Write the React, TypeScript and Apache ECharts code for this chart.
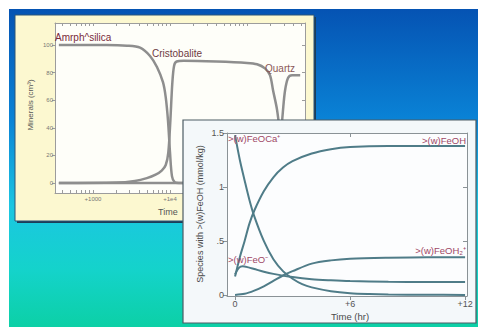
import React, { useEffect, useRef } from 'react';
import * as echarts from 'echarts';

// ---------- Panel 1: minerals vs time (log axis, years) ----------
const mineralLabelValues = [1000, 10000];
const mineralTickValues = [
  400, 500, 600, 700, 800, 900, 1000,
  2000, 3000, 4000, 5000, 6000, 7000, 8000, 9000, 10000,
  20000, 30000, 40000, 50000, 60000, 70000, 80000, 90000, 100000,
  200000, 300000, 400000, 500000,
];
const mineralYTicks = [0, 20, 40, 60, 80, 100];

const amorphSilica: [number, number][] = [
  [360, 100], [1500, 100], [2760, 99.5], [4080, 98], [5500, 92], [6770, 84],
  [8100, 73], [8800, 62], [9420, 45], [10000, 22], [10600, 5], [11500, 0.5],
  [13000, 0], [500000, 0],
];
const cristobalite: [number, number][] = [
  [360, 0], [2000, 0.3], [3500, 1.5], [5000, 3.5], [6500, 6], [7800, 9],
  [8800, 13], [9500, 22], [10100, 45], [10700, 72], [11300, 85], [12200, 88],
  [15000, 88.5], [40000, 88], [100000, 87], [135000, 86], [171000, 83],
  [199000, 78], [218000, 67], [245500, 53], [268500, 35], [293500, 12],
  [320000, 0.5], [340000, 0], [500000, 0],
];
const quartz: [number, number][] = [
  [360, 0], [238000, 0], [260400, 12], [276500, 35], [293500, 53],
  [311700, 67], [340700, 76], [383900, 78], [490000, 78],
];

// ---------- Panel 2: surface species vs time (hr) ----------
const hrLabelValues = [0, 6, 12];
const hrTopTicks = [6];
const speciesYTicks = [0, 0.5, 1, 1.5];
const speciesRightTicks = [0.5, 1];

const feOCa: [number, number][] = [
  [0, 1.48], [0.25, 1.25], [0.5, 1.06], [0.75, 0.88], [1, 0.73], [1.5, 0.5],
  [2, 0.33], [2.5, 0.22], [3, 0.15], [3.5, 0.1], [4, 0.07], [5, 0.035],
  [6, 0.016], [7, 0.008], [8, 0.004], [10, 0.001], [12, 0],
];
const feOH: [number, number][] = [
  [0, 0.17], [0.25, 0.35], [0.5, 0.5], [0.75, 0.66], [1, 0.78], [1.5, 0.96],
  [2, 1.09], [2.5, 1.18], [3, 1.24], [4, 1.31], [5, 1.35], [6, 1.37],
  [8, 1.38], [10, 1.38], [12, 1.38],
];
const feOminus: [number, number][] = [
  [0, 0.19], [0.2, 0.25], [0.4, 0.265], [0.7, 0.255], [1, 0.24], [1.5, 0.215],
  [2, 0.195], [3, 0.165], [4, 0.145], [5, 0.135], [6, 0.128], [8, 0.122],
  [10, 0.12], [12, 0.12],
];
const feOH2plus: [number, number][] = [
  [0, 0], [0.5, 0.01], [1, 0.04], [1.5, 0.08], [2, 0.13], [2.5, 0.18],
  [3, 0.22], [4, 0.29], [5, 0.32], [6, 0.335], [8, 0.345], [10, 0.35], [12, 0.35],
];

const FONT = '"Liberation Sans", Arial, sans-serif';

export default function App() {
  const ref = useRef<HTMLDivElement>(null);

  useEffect(() => {
    const chart = echarts.init(ref.current!, null, { renderer: 'svg' });
    const frame1 = '#9c9c9c';
    const frame2 = '#8a9296';
    const curve1 = '#8e8e8e';
    const curve2 = '#4f7c88';
    const lbl2 = '#a04766';

    const option: any = {
      animation: false,
      textStyle: { fontFamily: FONT },
      graphic: [
        {
          type: 'rect', z: 1, silent: true,
          shape: { x: 9, y: 9, width: 469, height: 318 },
          style: {
            fill: new echarts.graphic.LinearGradient(0, 0, 0, 1, [
              { offset: 0, color: '#0553b3' },
              { offset: 0.35, color: '#0a83d6' },
              { offset: 0.62, color: '#1bc6e2' },
              { offset: 0.82, color: '#14d3cb' },
              { offset: 1, color: '#0cd0a6' },
            ]),
          },
        },
        // panel 1 shadow + body
        {
          type: 'rect', z: 2, silent: true,
          shape: { x: 17, y: 17, width: 299, height: 206 },
          style: { fill: '#1c3d58' },
        },
        {
          type: 'rect', z: 2, silent: true,
          shape: { x: 15, y: 15, width: 299, height: 206 },
          style: { fill: '#fcf8d0', stroke: '#2a5478', lineWidth: 1 },
        },
        // panel 1 texts
        {
          type: 'text', z: 6, silent: true, x: 55, y: 37,
          style: { text: 'Amrph^silica', fill: '#7a2a3a', font: `10px ${FONT}`, verticalAlign: 'middle' },
        },
        {
          type: 'text', z: 6, silent: true, x: 152, y: 53,
          style: { text: 'Cristobalite', fill: '#6e3a42', font: `10px ${FONT}`, verticalAlign: 'middle' },
        },
        {
          type: 'text', z: 6, silent: true, x: 265, y: 68,
          style: { text: 'Quartz', fill: '#8a5858', font: `10px ${FONT}`, verticalAlign: 'middle' },
        },
        {
          type: 'text', z: 6, silent: true, x: 30, y: 105, rotation: Math.PI / 2,
          style: { text: 'Minerals (cm³)', fill: '#555', font: `8px ${FONT}`, align: 'center', verticalAlign: 'middle' },
        },
        {
          type: 'text', z: 6, silent: true, x: 158, y: 212,
          style: { text: 'Time', fill: '#555', font: `9px ${FONT}`, verticalAlign: 'middle' },
        },
        // panel 2 body
        {
          type: 'rect', z: 10, silent: true,
          shape: { x: 183, y: 120, width: 293, height: 203 },
          style: { fill: '#f4f8fa', stroke: '#4c5c64', lineWidth: 1.2 },
        },
        {
          type: 'text', z: 14, silent: true, x: 200, y: 214, rotation: Math.PI / 2,
          style: { text: 'Species with >(w)FeOH (mmol/kg)', fill: '#4a4a4a', font: `9px ${FONT}`, align: 'center', verticalAlign: 'middle' },
        },
        {
          type: 'text', z: 14, silent: true, x: 350, y: 316,
          style: { text: 'Time (hr)', fill: '#4a4a4a', font: `9.5px ${FONT}`, align: 'center', verticalAlign: 'middle' },
        },
        {
          type: 'text', z: 14, silent: true, x: 228, y: 138,
          style: { text: '>(w)FeOCa⁺', fill: lbl2, font: `9.5px ${FONT}`, verticalAlign: 'middle' },
        },
        {
          type: 'text', z: 14, silent: true, x: 466, y: 140,
          style: { text: '>(w)FeOH', fill: lbl2, font: `9.5px ${FONT}`, align: 'right', verticalAlign: 'middle' },
        },
        {
          type: 'text', z: 14, silent: true, x: 466, y: 250,
          style: { text: '>(w)FeOH₂⁺', fill: lbl2, font: `9.5px ${FONT}`, align: 'right', verticalAlign: 'middle' },
        },
        {
          type: 'text', z: 14, silent: true, x: 228, y: 259,
          style: { text: '>(w)FeO⁻', fill: lbl2, font: `9.5px ${FONT}`, verticalAlign: 'middle' },
        },
      ],
      grid: [
        { left: 55, top: 23, width: 250, height: 170, show: true, backgroundColor: '#fefef9', borderWidth: 0, z: 3 },
        { left: 227, top: 133, width: 240, height: 163, show: true, backgroundColor: '#fcfdfe', borderWidth: 0, z: 11 },
      ],
      xAxis: [
        {
          type: 'log', logBase: 10, gridIndex: 0, position: 'bottom', min: 321, max: 566000, z: 4,
          axisLine: { show: true, onZero: false, lineStyle: { color: frame1, width: 1 } },
          axisTick: { show: true, inside: true, length: 3, customValues: mineralTickValues, lineStyle: { color: frame1 } },
          axisLabel: {
            show: true, customValues: mineralLabelValues, fontSize: 6, color: '#777', margin: 3, fontFamily: FONT,
            formatter: (v: number) => (v === 1000 ? '+1000' : '+1e' + Math.round(Math.log10(v))),
          },
          splitLine: { show: false }, minorSplitLine: { show: false },
        },
        {
          type: 'log', logBase: 10, gridIndex: 0, position: 'top', min: 321, max: 566000, z: 4,
          axisLine: { show: true, onZero: false, lineStyle: { color: frame1, width: 1 } },
          axisTick: { show: true, inside: true, length: 3, customValues: mineralTickValues, lineStyle: { color: frame1 } },
          axisLabel: { show: false },
          splitLine: { show: false },
        },
        {
          type: 'value', gridIndex: 1, position: 'bottom', min: -0.42, max: 12.1, z: 12,
          axisLine: { show: true, onZero: false, lineStyle: { color: frame2, width: 1 } },
          axisTick: { show: true, inside: false, length: 4, customValues: hrLabelValues, lineStyle: { color: frame2 } },
          axisLabel: {
            show: true, customValues: hrLabelValues, fontSize: 9, color: '#555', margin: 3, fontFamily: FONT,
            formatter: (v: number) => (v === 0 ? '0' : '+' + v),
          },
          splitLine: { show: false },
        },
        {
          type: 'value', gridIndex: 1, position: 'top', min: -0.42, max: 12.1, z: 12,
          axisLine: { show: true, onZero: false, lineStyle: { color: frame2, width: 1 } },
          axisTick: { show: true, inside: true, length: 4, customValues: hrTopTicks, lineStyle: { color: frame2 } },
          axisLabel: { show: false },
          splitLine: { show: false },
        },
      ],
      yAxis: [
        {
          type: 'value', gridIndex: 0, position: 'left', min: -7.25, max: 115.9, z: 4,
          axisLine: { show: true, onZero: false, lineStyle: { color: frame1, width: 1 } },
          axisTick: { show: true, inside: false, length: 3, customValues: mineralYTicks, lineStyle: { color: frame1 } },
          axisLabel: { show: true, customValues: mineralYTicks, fontSize: 6, color: '#777', margin: 2, fontFamily: FONT },
          splitLine: { show: false },
        },
        {
          type: 'value', gridIndex: 0, position: 'right', min: -7.25, max: 115.9, z: 4,
          axisLine: { show: true, onZero: false, lineStyle: { color: frame1, width: 1 } },
          axisTick: { show: true, inside: true, length: 3, customValues: mineralYTicks, lineStyle: { color: frame1 } },
          axisLabel: { show: false },
          splitLine: { show: false },
        },
        {
          type: 'value', gridIndex: 1, position: 'left', min: -0.01, max: 1.5, z: 12,
          axisLine: { show: true, onZero: false, lineStyle: { color: frame2, width: 1 } },
          axisTick: { show: true, inside: false, length: 4, customValues: speciesYTicks, lineStyle: { color: frame2 } },
          axisLabel: {
            show: true, customValues: speciesYTicks, fontSize: 9, color: '#555', margin: 3, fontFamily: FONT,
            formatter: (v: number) => (v > 0 && v < 1 ? String(v).replace('0.', '.') : String(v)),
          },
          splitLine: { show: false },
        },
        {
          type: 'value', gridIndex: 1, position: 'right', min: -0.01, max: 1.5, z: 12,
          axisLine: { show: true, onZero: false, lineStyle: { color: frame2, width: 1 } },
          axisTick: { show: true, inside: true, length: 4, customValues: speciesRightTicks, lineStyle: { color: frame2 } },
          axisLabel: { show: false },
          splitLine: { show: false },
        },
      ],
      series: [
        ...[
          { name: 'Amrph^silica', data: amorphSilica },
          { name: 'Cristobalite', data: cristobalite },
          { name: 'Quartz', data: quartz },
        ].map((s) => ({
          type: 'line', name: s.name, data: s.data, xAxisIndex: 0, yAxisIndex: 0, z: 5,
          showSymbol: false, smooth: 0.3, silent: true,
          lineStyle: { color: curve1, width: 2.5 },
        })),
        ...[
          { name: '>(w)FeOCa+', data: feOCa },
          { name: '>(w)FeOH', data: feOH },
          { name: '>(w)FeO-', data: feOminus },
          { name: '>(w)FeOH2+', data: feOH2plus },
        ].map((s) => ({
          type: 'line', name: s.name, data: s.data, xAxisIndex: 2, yAxisIndex: 2, z: 13,
          showSymbol: false, smooth: 0.3, silent: true,
          lineStyle: { color: curve2, width: 2 },
        })),
      ],
    };

    chart.setOption(option);
    return () => chart.dispose();
  }, []);

  return (
    <div
      ref={ref}
      style={{ position: 'fixed', left: 0, top: 0, width: 478, height: 327, background: '#ffffff' }}
    />
  );
}
